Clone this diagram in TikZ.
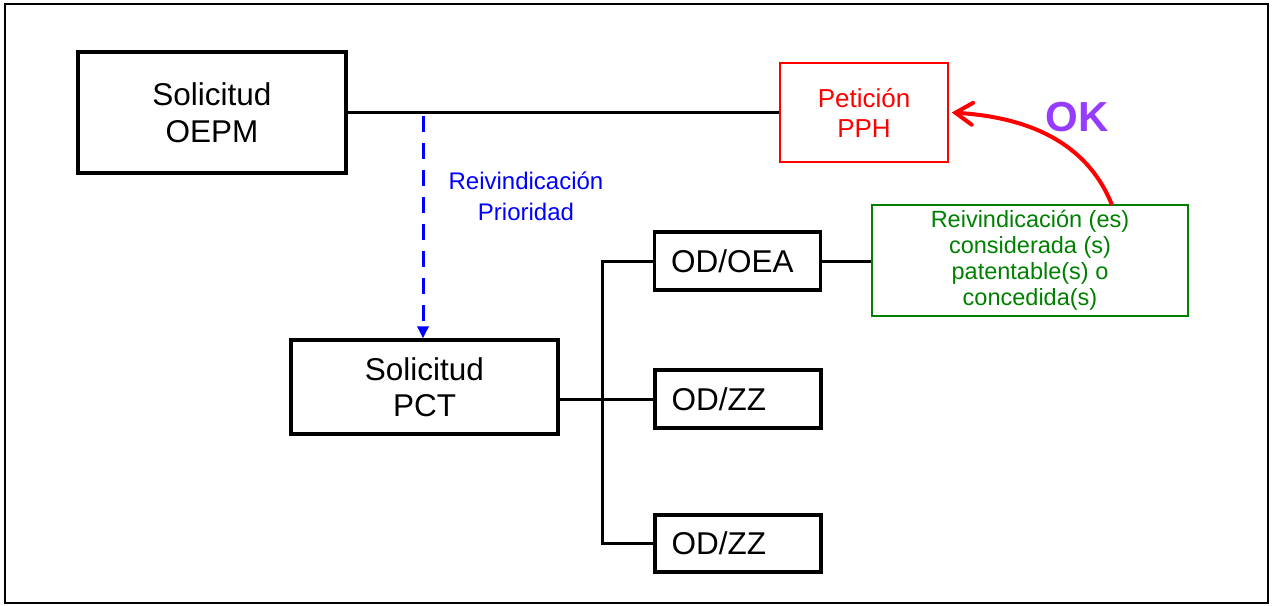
\documentclass[tikz,border=0pt]{standalone}
\usepackage{fontspec}
\setmainfont{Liberation Sans}
\usetikzlibrary{arrows.meta}
\definecolor{okpurple}{RGB}{150,60,255}
\definecolor{boxgreen}{RGB}{0,128,0}
\begin{document}
\begin{tikzpicture}[x=1pt,y=-1pt,
  bigbox/.style={draw=black, line width=3.3pt, rectangle, inner sep=0pt, align=center,
     font=\fontsize{31.5}{37.5}\selectfont},
  smallbox/.style={draw=black, line width=3.3pt, rectangle, inner sep=0pt},
  boxtext/.style={anchor=west, inner sep=0pt, font=\fontsize{31.5}{36}\selectfont},
  thinbox/.style={rectangle, inner sep=0pt, align=center, line width=1.5pt},
  conn/.style={draw=black, line width=3pt},
]
\useasboundingbox (0,0) rectangle (1273,605);
\draw[line width=2pt] (5,4) rectangle (1268,603);

\node[bigbox, minimum width=268pt, minimum height=121pt] (oepm) at (212,112.5) {Solicitud\\OEPM};
\node[thinbox, draw=red, text=red, minimum width=168pt, minimum height=99pt,
      font=\fontsize{26}{30}\selectfont] (pph) at (864,112.5) {Petición\\PPH};
\node[thinbox, draw=boxgreen, text=boxgreen, minimum width=316pt, minimum height=111pt,
      font=\fontsize{23.5}{26}\selectfont] (green) at (1030,260.5)
      {Reivindicación (es)\\considerada (s)\\patentable(s) o\\concedida(s)};
\node[bigbox, minimum width=267pt, minimum height=94pt, font=\fontsize{31.5}{36.5}\selectfont] (pct) at (424.5,387) {Solicitud\\PCT};
\node[smallbox, minimum width=166pt, minimum height=58pt] (odoea) at (737.5,261) {};
\node[smallbox, minimum width=166pt, minimum height=58pt] (odzz1) at (738,399) {};
\node[smallbox, minimum width=166pt, minimum height=57pt] (odzz2) at (738,543.5) {};
\node[boxtext] (odoeaT) at ([xshift=18pt]odoea.west) {OD/OEA};
\node[boxtext] (odzz1T) at ([xshift=18pt]odzz1.west) {OD/ZZ};
\node[boxtext] (odzz2T) at ([xshift=18pt]odzz2.west) {OD/ZZ};

\node[text=blue, align=center, inner sep=0pt, font=\fontsize{24}{31}\selectfont] (prio) at (526,196)
  {Reivindicación\\Prioridad};
\node[text=okpurple, inner sep=0pt, font=\fontsize{42}{46}\bfseries\selectfont] (ok) at (1077,117) {OK};

% connectors
\draw[conn] (oepm.east) -- (oepm.east -| pph.west);
\coordinate (bstart) at (423,116);
\draw[blue, line width=3pt, dash pattern=on 16pt off 11pt, -{Triangle[length=12pt,width=11pt]}]
  (bstart) -- (bstart |- pct.north);
\draw[conn] (pct.east |- odzz1.west) -- (odzz1.west);
\draw[conn] (odoea.west) -- ++(-50,0) |- (odzz2.west);
\draw[conn] (odoea.east) -- (odoea.east -| green.west);
\coordinate (astart) at (1112,205);
\draw[red, line width=4pt, -{Straight Barb[length=17pt,width=22pt,line cap=round]}]
  (astart) .. controls (1090,150) and (1040,118) .. ([xshift=3pt]pph.east);
\end{tikzpicture}
\end{document}
